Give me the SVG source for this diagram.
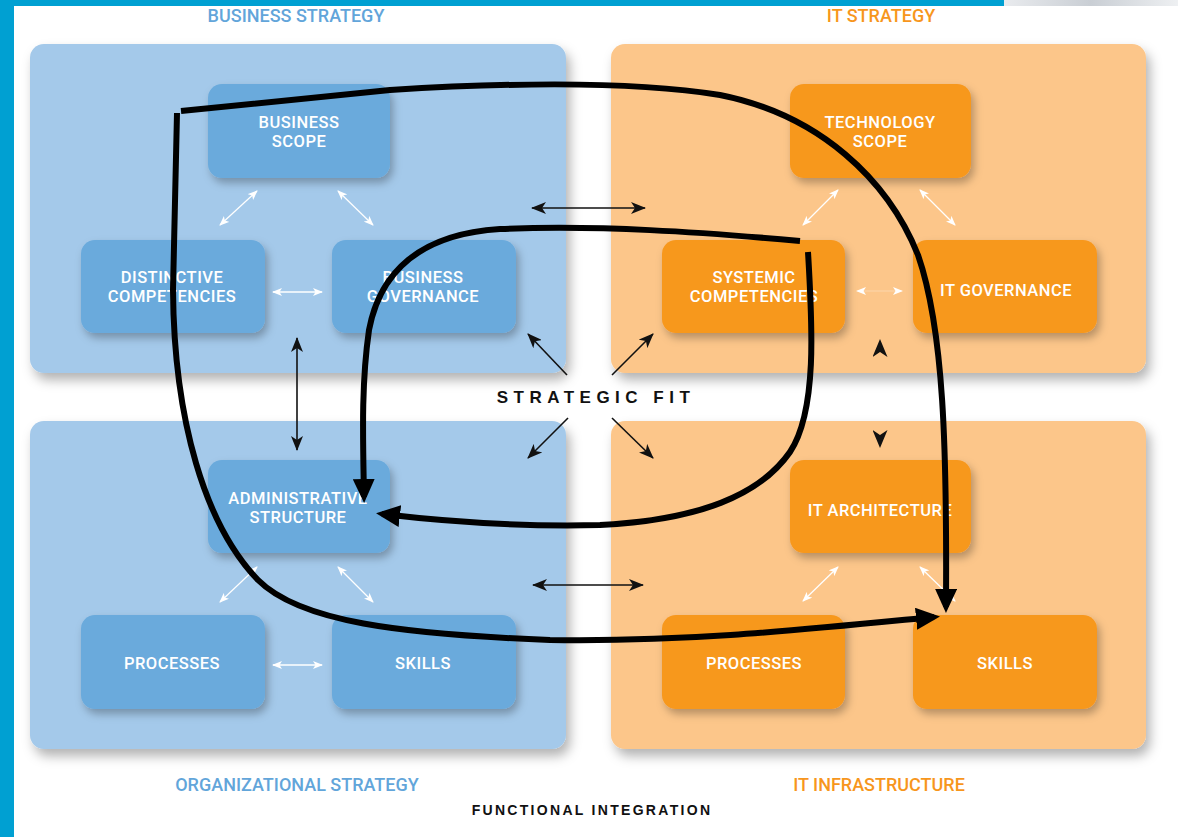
<svg xmlns="http://www.w3.org/2000/svg" width="1178" height="837" viewBox="0 0 1178 837">
<style>
.pb{fill:#a4c9ea}
.po{fill:#fcc68a}
.nb{fill:#6aaadc}
.no{fill:#f7981f}
.nt{font-family:Roboto,"Liberation Sans",sans-serif;font-weight:500;font-size:16.5px;letter-spacing:0.5px;fill:#fff;text-anchor:middle}
.hd{font-family:Roboto,"Liberation Sans",sans-serif;font-weight:500;font-size:18px;text-anchor:middle}
.hb{fill:#62a5da}
.ho{fill:#f7961c}
.big{fill:none;stroke:#000;stroke-width:6;stroke-linecap:butt;stroke-linejoin:round}
.thin{fill:none;stroke:#111;stroke-width:1.6}
.wht{fill:none;stroke:#fff;stroke-width:1.3}
</style>
<defs>
<filter id="shP" x="-10%" y="-10%" width="125%" height="130%">
<feDropShadow dx="4" dy="7" stdDeviation="6" flood-color="#000" flood-opacity="0.3"/>
</filter>
<filter id="shN" x="-15%" y="-15%" width="135%" height="145%">
<feDropShadow dx="3" dy="5" stdDeviation="4" flood-color="#000" flood-opacity="0.28"/>
</filter>
<linearGradient id="gr" x1="0" y1="0" x2="1" y2="0">
<stop offset="0" stop-color="#e9ebee"/>
<stop offset="0.5" stop-color="#c9ced4"/>
<stop offset="1" stop-color="#eef0f2"/>
</linearGradient>
<marker id="mBig" markerUnits="userSpaceOnUse" markerWidth="24" markerHeight="22" viewBox="0 0 24 22" refX="18" refY="11" orient="auto">
<path d="M0,0 L24,11 L0,22 z" fill="#000"/>
</marker>
<marker id="mDart" markerUnits="userSpaceOnUse" markerWidth="15" markerHeight="12" viewBox="0 0 15 12" refX="14" refY="6" orient="auto-start-reverse">
<path d="M0,0 L15,6 L0,12 L4,6 z" fill="#111"/>
</marker>
<marker id="mDartL" markerUnits="userSpaceOnUse" markerWidth="18" markerHeight="15" viewBox="0 0 18 15" refX="17" refY="7.5" orient="auto-start-reverse">
<path d="M0,0 L18,7.5 L0,15 L5,7.5 z" fill="#111"/>
</marker>
<marker id="mW" markerUnits="userSpaceOnUse" markerWidth="10" markerHeight="8" viewBox="0 0 10 8" refX="9" refY="4" orient="auto-start-reverse">
<path d="M0,0 L10,4 L0,8 L2.5,4 z" fill="#fff"/>
</marker>
</defs>
<rect x="0" y="0" width="1178" height="837" fill="#fff"/>
<rect x="0" y="0" width="14" height="837" fill="#00a0d2"/>
<rect x="0" y="0" width="1004" height="6" fill="#00a0d2"/>
<rect x="1004" y="0" width="174" height="6" fill="url(#gr)"/>

<g id="headers">
<text class="hd hb" x="296" y="22">BUSINESS STRATEGY</text>
<text class="hd ho" x="881" y="22">IT STRATEGY</text>
<text class="hd hb" x="297" y="791">ORGANIZATIONAL STRATEGY</text>
<text class="hd ho" x="879" y="791">IT INFRASTRUCTURE</text>
</g>

<g id="panel-business-strategy"><rect class="pb" x="30" y="44" width="536" height="329" rx="14" filter="url(#shP)"/></g>
<g id="panel-it-strategy"><rect class="po" x="611" y="44" width="535" height="329" rx="14" filter="url(#shP)"/></g>
<g id="panel-organizational-strategy"><rect class="pb" x="30" y="421" width="536" height="328" rx="14" filter="url(#shP)"/></g>
<g id="panel-it-infrastructure"><rect class="po" x="611" y="421" width="535" height="328" rx="14" filter="url(#shP)"/></g>

<g id="node-business-scope"><rect class="nb" x="208" y="84" width="182" height="94" rx="14" filter="url(#shN)"/>
<text class="nt" x="299" y="128">BUSINESS</text><text class="nt" x="299" y="147">SCOPE</text></g>
<g id="node-distinctive-competencies"><rect class="nb" x="81" y="240" width="184" height="93" rx="14" filter="url(#shN)"/>
<text class="nt" x="172" y="283">DISTINCTIVE</text><text class="nt" x="172" y="302">COMPETENCIES</text></g>
<g id="node-business-governance"><rect class="nb" x="332" y="240" width="184" height="93" rx="14" filter="url(#shN)"/>
<text class="nt" x="423" y="283">BUSINESS</text><text class="nt" x="423" y="302">GOVERNANCE</text></g>
<g id="node-administrative-structure"><rect class="nb" x="208" y="460" width="182" height="93" rx="14" filter="url(#shN)"/>
<text class="nt" x="298" y="504">ADMINISTRATIVE</text><text class="nt" x="298" y="523">STRUCTURE</text></g>
<g id="node-processes-org"><rect class="nb" x="81" y="615" width="184" height="94" rx="14" filter="url(#shN)"/>
<text class="nt" x="172" y="669">PROCESSES</text></g>
<g id="node-skills-org"><rect class="nb" x="332" y="615" width="184" height="94" rx="14" filter="url(#shN)"/>
<text class="nt" x="423" y="669">SKILLS</text></g>

<g id="node-technology-scope"><rect class="no" x="790" y="84" width="181" height="94" rx="14" filter="url(#shN)"/>
<text class="nt" x="880" y="128">TECHNOLOGY</text><text class="nt" x="880" y="147">SCOPE</text></g>
<g id="node-systemic-competencies"><rect class="no" x="662" y="240" width="183" height="93" rx="14" filter="url(#shN)"/>
<text class="nt" x="754" y="283">SYSTEMIC</text><text class="nt" x="754" y="302">COMPETENCIES</text></g>
<g id="node-it-governance"><rect class="no" x="913" y="240" width="184" height="93" rx="14" filter="url(#shN)"/>
<text class="nt" x="1006" y="296">IT GOVERNANCE</text></g>
<g id="node-it-architecture"><rect class="no" x="790" y="460" width="181" height="93" rx="14" filter="url(#shN)"/>
<text class="nt" x="880" y="516">IT ARCHITECTURE</text></g>
<g id="node-processes-it"><rect class="no" x="662" y="615" width="183" height="94" rx="14" filter="url(#shN)"/>
<text class="nt" x="754" y="669">PROCESSES</text></g>
<g id="node-skills-it"><rect class="no" x="913" y="615" width="184" height="94" rx="14" filter="url(#shN)"/>
<text class="nt" x="1005" y="669">SKILLS</text></g>

<g id="labels">
<text x="596" y="403" font-family="'Liberation Sans',Arial,sans-serif" font-weight="bold" font-size="17" letter-spacing="5.5" text-anchor="middle" fill="#111">STRATEGIC FIT</text>
<text x="592" y="815" font-family="'Liberation Sans',Arial,sans-serif" font-weight="bold" font-size="14" letter-spacing="2.3" text-anchor="middle" fill="#111">FUNCTIONAL INTEGRATION</text>
</g>

<g id="connectors">
<path class="wht" d="M257,191 L220,225" marker-start="url(#mW)" marker-end="url(#mW)"/>
<path class="wht" d="M338,191 L373,225" marker-start="url(#mW)" marker-end="url(#mW)"/>
<path class="wht" d="M273,292 L322,292" marker-start="url(#mW)" marker-end="url(#mW)"/>
<path class="wht" d="M257,567 L220,602" marker-start="url(#mW)" marker-end="url(#mW)"/>
<path class="wht" d="M338,567 L373,602" marker-start="url(#mW)" marker-end="url(#mW)"/>
<path class="wht" d="M273,665 L322,665" marker-start="url(#mW)" marker-end="url(#mW)"/>
<path class="wht" d="M838,190 L803,225" marker-start="url(#mW)" marker-end="url(#mW)"/>
<path class="wht" d="M920,190 L955,225" marker-start="url(#mW)" marker-end="url(#mW)"/>
<path class="wht" d="M857,291 L902,291" stroke-opacity="0.2" marker-start="url(#mW)" marker-end="url(#mW)"/>
<path class="wht" d="M838,567 L803,601" marker-start="url(#mW)" marker-end="url(#mW)"/>
<path class="wht" d="M920,567 L955,601" marker-start="url(#mW)" marker-end="url(#mW)"/>

<path class="thin" d="M532,208 L645,208" marker-start="url(#mDart)" marker-end="url(#mDart)"/>
<path class="thin" d="M533,585 L643,585" marker-start="url(#mDart)" marker-end="url(#mDart)"/>
<path class="thin" d="M297,338 L297,450" marker-start="url(#mDart)" marker-end="url(#mDart)"/>
<path d="M880,340 L880,447" fill="none" stroke="none" marker-start="url(#mDartL)" marker-end="url(#mDartL)"/>
<path class="thin" d="M567,375 L528,334" marker-end="url(#mDart)"/>
<path class="thin" d="M612,375 L653,334" marker-end="url(#mDart)"/>
<path class="thin" d="M568,418 L528,458" marker-end="url(#mDart)"/>
<path class="thin" d="M612,418 L653,458" marker-end="url(#mDart)"/>

<path class="big" d="M181,111 L390,90 C520,82 640,82 720,95 C820,115 888,180 918,255 C944,330 947,450 946,607" marker-end="url(#mBig)"/>
<path class="big" d="M177,113 L173,290 C174,420 205,525 258,580 C300,622 400,634 550,640 C690,642 800,630 934,617" marker-end="url(#mBig)"/>
<path class="big" d="M800,241 C700,232 600,225 500,229 C420,234 380,272 369,330 C361,385 363,440 364,497" marker-end="url(#mBig)"/>
<path class="big" d="M808,252 C812,320 818,410 790,452 C760,495 700,520 600,525 C520,527 450,522 382,514" marker-end="url(#mBig)"/>
</g>
</svg>
